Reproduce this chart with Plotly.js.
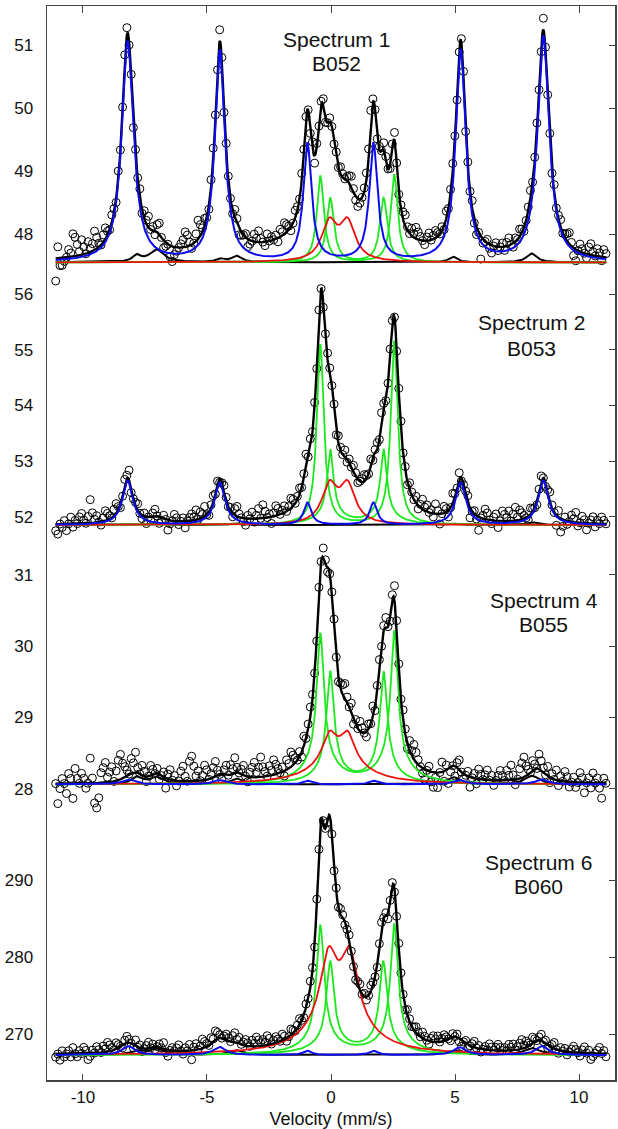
<!DOCTYPE html>
<html>
<head>
<meta charset="utf-8">
<script src="https://cdn.plot.ly/plotly-3.0.1.min.js"></script>
<style>html,body{margin:0;padding:0;background:#fff;}#chart{width:618px;height:1129px;}</style>
</head>
<body>
<div id="chart"></div>
<script>
// ---------------- data ----------------
// velocity channels of the folded spectra (mm/s)
const velStart = -11.1, velStep = 0.087, nChannels = 256;

const spectrumNames = ['Spectrum 1', 'Spectrum 2', 'Spectrum 4', 'Spectrum 6'];
const sampleNames = ['B052', 'B053', 'B055', 'B060'];
const baselines = [47.55, 51.85, 28.06, 267.3];
const xTickVals = [-10, -5, 0, 5, 10];
const xTickText = ['-10', '-5', '0', '5', '10'];
const yTicks1 = [48, 49, 50, 51];
const yTicks2 = [52, 53, 54, 55, 56];
const yTicks3 = [28, 29, 30, 31];
const yTicks4 = [270, 280, 290];

// fitted lines of each component: [centre (mm/s), half width (mm/s), height above baseline]
// Spectrum 1 (B052)
const blue1 = [[-8.2,.28,3.5],[-4.48,.24,3.35],[-0.95,.2,1.86],[1.71,.2,1.86],[5.23,.24,3.35],[8.56,.28,3.58]];
const greenA1 = [[-0.43,.17,1.37],[2.55,.17,1.39]];
const greenB1 = [[-0.03,.18,1.02],[2.12,.18,1.02]];
const red1 = [[-0.07,.37,.595],[0.67,.37,.595]];
const small1 = [[-7.83,.2,.1],[-7.03,.35,.2],[-4.48,.2,.05],[-3.8,.25,.1],[4.91,.2,.09],[8.09,.25,.14]];
const total1 = [[-8.2,.28,3.55],[-4.48,.24,3.36],[5.23,.24,3.36],[8.56,.28,3.6],[-7.83,.2,.1],[-7.03,.35,.2],[-3.8,.25,.1],[4.91,.2,.09],[8.09,.25,.14],
  [-0.95,.2,1.75],[-0.38,.2,1.38],[0.0,.28,1.2],[0.67,.4,.48],[1.71,.2,1.86],[2.12,.2,.82],[2.55,.18,1.37],[0.3,2.5,.45]];
// Spectrum 2 (B053)
const blue2 = [[-8.2,.25,.8],[-4.48,.25,.76],[-0.95,.18,.4],[1.71,.18,.4],[5.23,.25,.76],[8.56,.25,.8]];
const greenA2 = [[-0.43,.17,3.24],[2.55,.17,3.3]];
const greenB2 = [[-0.03,.15,1.15],[2.12,.15,1.15],[-0.03,.6,.2],[2.12,.6,.2]];
const red2 = [[-0.06,.37,.67],[0.67,.37,.67]];
const small2 = [[-7.03,.3,.04],[-3.8,.3,.03],[4.9,.3,.03],[8.09,.3,.05]];
const total2 = [[-8.2,.25,.82],[-4.48,.25,.78],[5.23,.25,.78],[8.56,.25,.82],[-7.03,.35,.1],[-0.95,.2,.42],[1.71,.2,.42],
  [-0.4,.24,3.6],[0.0,.25,1.3],[0.65,.4,.5],[2.12,.22,.9],[2.54,.25,3.37],[1.0,1.5,.25]];
// Spectrum 4 (B055)
const blue3 = [[-8.17,.3,.07],[-4.5,.3,.06],[-0.95,.2,.05],[1.71,.2,.05],[5.2,.3,.06],[8.5,.3,.07]];
const greenA3 = [[-0.43,.17,1.75],[2.55,.17,1.78],[-0.43,.7,.35],[2.55,.7,.35]];
const greenB3 = [[-0.03,.17,1.3],[2.12,.17,1.3],[-0.03,.6,.26],[2.12,.6,.26]];
const red3 = [[-0.06,.35,.4],[0.67,.35,.4],[-0.06,1.2,.16],[0.67,1.2,.16]];
const small3 = [[-7.83,.25,.1],[-7.03,.35,.1],[-3.8,.3,.08],[4.95,.3,.1],[8.1,.35,.12]];
const total3 = [[-8.17,.3,.08],[-7.83,.25,.1],[-7.03,.35,.12],[-4.48,.3,.08],[-3.8,.3,.1],[4.95,.35,.18],[8.3,.4,.2],[-0.95,.2,.05],[1.71,.2,.05],
  [-0.4,.25,2.15],[-0.05,.28,1.9],[0.65,.4,.45],[2.12,.28,1.4],[2.54,.24,2.0],[1.0,1.5,.25]];
// Spectrum 6 (B060)
const blue4 = [[-8.17,.3,1.15],[-4.5,.3,1.05],[-0.95,.2,.55],[1.7,.2,.55],[5.2,.3,1.0],[8.5,.3,1.15]];
const greenA4 = [[-0.43,.18,14.7],[2.55,.18,14.85],[-0.43,.8,2.0],[2.55,.8,2.0]];
const greenB4 = [[-0.03,.18,10.35],[2.11,.18,10.35],[-0.03,.8,1.6],[2.11,.8,1.6]];
const red4 = [[-0.1,.4,8.4],[0.75,.4,8.4],[-0.1,1.2,2.5],[0.75,1.2,2.5]];
const small4 = [[-7.83,.3,.5],[-7.03,.35,.8],[-3.8,.35,.6],[4.95,.35,.6],[8.1,.4,.9]];
const total4 = [[-8.2,.4,1.4],[-7.03,.35,.7],[-4.5,.4,1.6],[-3.85,.35,.6],[5.0,.45,1.6],[8.4,.45,1.7],[-0.95,.2,.55],[1.7,.2,.55],
  [-0.42,.2,19.05],[-0.05,.28,21.4],[0.58,.4,9.5],[2.1,.28,10.5],[2.53,.25,17],[0.7,1.6,2.7]];

// deviation of each measured point from the fitted envelope, in steps of residStep
const residStep = [0.06, 0.06, 0.07, 0.4];
const resid1 = [
 -6,3,-2,-2,-1,0,2,1,6,5,3,1,4,2,0,3,
 1,2,5,3,1,0,2,3,1,0,2,1,-1,2,0,1,
 3,2,-1,1,-2,1,0,2,-1,2,1,3,0,1,-1,2,
 3,0,-2,-1,0,-3,-4,-2,-1,0,1,2,4,3,1,-1,
 0,2,5,3,1,2,0,-1,2,3,1,0,3,1,-1,2,
 1,0,-1,2,1,-2,-1,0,1,-2,-1,0,2,1,3,1,
 0,-1,2,0,1,0,1,-1,2,1,3,2,1,-1,0,2,
 1,0,2,1,1,0,-1,2,-2,1,0,1,2,-1,0,1,
 0,-1,1,0,2,1,0,1,2,3,1,-1,-2,-1,0,1,
 2,3,5,1,0,-1,1,0,2,1,0,-1,1,2,0,-1,
 1,2,3,1,0,2,1,3,2,1,0,-1,1,2,0,1,
 2,1,0,1,-1,2,0,1,2,1,-1,0,1,2,-1,1,
 0,2,-1,-2,0,-6,-1,0,1,-1,-2,0,1,-1,0,1,
 -1,1,2,0,-1,1,0,2,1,-1,0,1,2,0,1,2,
 0,-1,3,1,0,1,-1,2,0,1,2,0,1,2,3,1,
 -2,-3,0,2,1,0,-1,2,3,1,0,2,1,-1,2,1];
const resid2 = [
 -2,-3,0,-1,1,-2,0,2,-1,1,0,2,3,1,0,2,
 7,3,1,2,0,-1,1,3,2,1,0,2,3,1,-1,0,
 2,1,3,-1,0,1,2,0,-1,1,-2,0,-1,1,2,0,
 -2,-1,1,0,-3,-1,0,2,1,-1,0,1,-2,0,1,2,
 1,3,0,2,1,3,0,-1,1,2,0,1,-1,0,2,1,
 0,1,-1,2,3,1,0,-1,-2,1,0,2,-1,1,3,0,
 4,2,0,1,-2,1,3,2,0,1,2,0,1,3,2,0,
 1,2,0,1,3,-1,2,0,1,-1,2,0,-1,1,2,1,
 0,1,-2,2,1,0,2,-1,1,0,2,1,-1,0,1,2,
 1,0,2,-1,1,2,0,3,1,-1,0,2,1,0,-1,1,
 2,0,1,-1,2,1,0,2,-1,1,3,1,2,0,1,-1,
 3,1,-3,0,2,1,-2,0,3,1,0,2,-1,0,1,2,
 -3,0,1,-1,-4,0,1,3,2,0,-1,1,2,-2,0,3,
 2,1,3,0,2,4,1,3,2,1,0,-1,2,1,0,-1,
 1,2,0,-1,1,3,1,0,-3,2,-4,-2,1,-1,0,2,
 1,3,-1,0,2,1,-2,0,1,2,-1,1,0,2,1,0];
const resid3 = [
 0,-4,-1,1,0,-2,2,1,-3,3,1,0,2,1,-1,0,
 5,1,-4,-5,-3,2,3,4,1,2,3,0,2,4,5,3,
 2,1,0,3,2,4,1,0,2,1,-1,0,2,1,0,1,
 -1,0,1,-2,1,2,0,1,-1,0,2,3,1,0,4,5,
 3,1,2,0,1,3,2,0,1,2,3,1,0,-1,1,2,
 0,2,1,3,1,0,1,2,0,-1,1,2,3,1,2,4,
 2,1,0,2,1,3,2,1,0,1,-1,2,1,3,2,1,
 0,1,-1,2,0,1,2,1,0,-1,1,0,2,1,-1,0,
 1,2,0,-1,1,2,3,1,0,2,-1,1,0,2,1,0,
 -1,1,0,2,-1,1,2,0,1,2,0,-1,1,3,2,1,
 0,2,1,-1,2,1,3,2,1,0,-1,-2,0,1,-2,-3,
 -1,-3,0,2,-2,1,-3,-1,0,-2,1,2,0,-1,0,1,
 -2,0,1,-1,2,1,0,1,2,0,1,-1,0,1,2,1,
 0,2,1,3,1,-1,0,2,3,4,2,1,0,2,1,0,
 3,2,1,0,2,-1,1,0,2,-1,1,0,2,1,-1,0,
 1,-1,0,2,1,-2,0,1,-1,2,0,1,-1,-3,1,0];
const resid4 = [
 -1,0,-2,1,-1,0,1,-1,2,0,-1,1,0,2,1,-2,
 -1,1,0,2,1,0,2,1,3,2,1,0,2,1,0,-1,
 1,2,1,0,-1,2,0,1,-1,0,1,2,0,1,-1,0,
 1,0,2,-1,-2,0,1,0,1,2,0,-1,1,0,2,-3,
 1,2,0,1,3,2,1,0,2,1,3,2,1,0,1,2,
 1,0,2,3,1,2,0,1,2,1,0,2,1,3,2,1,
 2,1,3,2,0,1,2,1,0,2,1,-1,0,2,1,0,
 1,2,0,-1,1,0,2,1,-1,1,0,2,1,0,-1,1,
 0,-2,1,0,2,1,-1,0,2,1,0,-1,1,2,0,1,
 -1,0,2,1,0,-1,1,2,0,1,-2,0,1,-1,0,2,
 1,0,-1,2,1,0,1,2,1,0,2,1,0,-1,1,2,
 1,2,0,1,2,1,0,-1,1,0,1,-1,-2,0,1,-1,
 0,1,2,0,1,-1,0,1,0,2,1,0,1,2,1,0,
 1,0,2,1,2,0,1,2,3,1,2,1,0,2,1,0,
 1,2,0,1,-1,0,1,2,0,-1,1,0,1,-1,0,1,
 2,1,0,-1,1,2,0,1,-2,-1,0,1,2,0,1,-1];

// ---------------- drawing ----------------
const colBlue = '#0b0bee', colGreen = '#1de81d', colRed = '#ee1010', colBlack = '#000000';
const chV = Array.from({length: nChannels}, (_, i) => velStart + i * velStep);
const curveV = Array.from({length: 1111}, (_, i) => -11.1 + i * 0.02);
function lor(v, lines) { let s = 0; for (const [c, w, h] of lines) { const d = (v - c) / w; s += h / (1 + d * d); } return s; }

const panels = [
  {base: baselines[0], blue: blue1, gA: greenA1, gB: greenB1, red: red1, small: small1, total: total1, resid: resid1, step: residStep[0]},
  {base: baselines[1], blue: blue2, gA: greenA2, gB: greenB2, red: red2, small: small2, total: total2, resid: resid2, step: residStep[1]},
  {base: baselines[2], blue: blue3, gA: greenA3, gB: greenB3, red: red3, small: small3, total: total3, resid: resid3, step: residStep[2]},
  {base: baselines[3], blue: blue4, gA: greenA4, gB: greenB4, red: red4, small: small4, total: total4, resid: resid4, step: residStep[3]}
];

const traces = [];
panels.forEach((p, k) => {
  const xa = k === 0 ? 'x' : 'x' + (k + 1), ya = k === 0 ? 'y' : 'y' + (k + 1);
  const line = (lines, color, width) => ({x: curveV, y: curveV.map(v => p.base + lor(v, lines)), xaxis: xa, yaxis: ya,
    type: 'scatter', mode: 'lines', line: {color: color, width: width, shape: 'linear'}, hoverinfo: 'skip', showlegend: false});
  traces.push({x: chV, y: chV.map((v, i) => p.base + lor(v, p.total) + (p.resid[i] || 0) * p.step), xaxis: xa, yaxis: ya,
    type: 'scatter', mode: 'markers', cliponaxis: false, showlegend: false,
    marker: {symbol: 'circle-open', size: 8, color: '#000', line: {width: 1, color: '#000'}}});
  traces.push(line(p.small, colBlack, 2));
  traces.push(line(p.gA, colGreen, 1.8));
  traces.push(line(p.gB, colGreen, 1.8));
  traces.push(line(p.red, colRed, 1.8));
  traces.push(line(p.total, colBlack, 2.4));
  traces.push(line(p.blue, colBlue, 2));
});
// empty traces that carry the right-hand tick axes
[5, 6, 7, 8].forEach((n, k) => traces.push({x: [], y: [], xaxis: k === 0 ? 'x' : 'x' + (k + 1), yaxis: 'y' + n, type: 'scatter', mode: 'lines', showlegend: false}));

const xRange = [-11.45, 11.45];
const frame = '#444';
const domains = [[0.7439, 1], [0.5028, 0.7439], [0.2486, 0.5028], [0, 0.2486]];
const yRanges = [[47.254, 51.62], [51.581, 56.239], [27.659, 31.487], [264.06, 298.74]];
const yTicks = [yTicks1, yTicks2, yTicks3, yTicks4];

const layout = {
  width: 618, height: 1129, margin: {l: 47, r: 3, t: 6, b: 49},
  paper_bgcolor: '#fff', plot_bgcolor: '#fff', showlegend: false,
  font: {family: 'Liberation Sans, Arial, Helvetica, sans-serif', size: 17, color: '#111'},
  xaxis: {domain: [0, 1], anchor: 'y', side: 'top', range: xRange, showline: true, linecolor: frame, linewidth: 1.5,
    ticks: 'inside', ticklen: 7, tickcolor: frame, tickvals: xTickVals, showticklabels: false, showgrid: false, zeroline: false},
  xaxis2: {domain: [0, 1], anchor: 'y2', range: xRange, visible: false},
  xaxis3: {domain: [0, 1], anchor: 'y3', range: xRange, visible: false},
  xaxis4: {domain: [0, 1], anchor: 'y4', range: xRange, showline: true, linecolor: frame, linewidth: 1.5,
    ticks: 'inside', ticklen: 6, tickcolor: frame, tickvals: xTickVals, ticktext: xTickText, showgrid: false, zeroline: false,
    ticklabelstandoff: 1, tickfont: {size: 17},
    title: {text: 'Velocity (mm/s)', font: {size: 18}, standoff: 9}},
  annotations: []
};
for (let k = 0; k < 4; k++) {
  const n = k === 0 ? '' : String(k + 1);
  layout['yaxis' + n] = {domain: domains[k], anchor: 'x' + n, range: yRanges[k], tickvals: yTicks[k],
    showline: true, mirror: true, linecolor: frame, linewidth: 1.5, ticks: '', showgrid: false, zeroline: false,
    ticklabelstandoff: 9, tickfont: {size: 17}};
  layout['yaxis' + (k + 5)] = {overlaying: 'y' + n, anchor: 'x' + n, side: 'right', range: yRanges[k], tickvals: yTicks[k],
    ticks: 'inside', ticklen: 6, tickcolor: frame, showticklabels: false, showline: false, showgrid: false, zeroline: false};
}
// panel labels
const labelX = [0.22, 8.1, 8.57, 8.36];
const labelY1 = [0.9688, 0.7053, 0.4465, 0.2025];
const labelY2 = [0.9465, 0.6813, 0.4237, 0.1799];
for (let k = 0; k < 4; k++) {
  layout.annotations.push({text: spectrumNames[k], x: labelX[k], xref: 'x', y: labelY1[k], yref: 'paper', showarrow: false,
    xanchor: 'center', yanchor: 'middle', font: {size: 21, color: '#111'}});
  layout.annotations.push({text: sampleNames[k], x: labelX[k], xref: 'x', y: labelY2[k], yref: 'paper', showarrow: false,
    xanchor: 'center', yanchor: 'middle', font: {size: 21, color: '#111'}});
}

Plotly.newPlot('chart', traces, layout, {staticPlot: true, displayModeBar: false});
</script>
</body>
</html>
